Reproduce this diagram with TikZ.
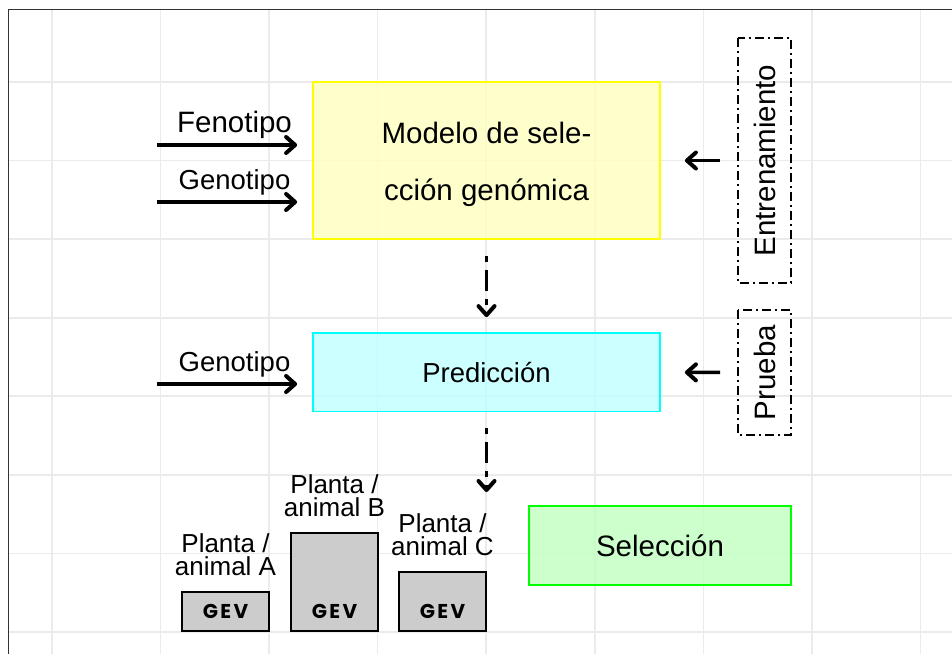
\documentclass[tikz,border=0pt]{standalone}
\usepackage{fontspec}
\setmainfont{Liberation Sans}
\newfontfamily\gevfont{Poppins}[LetterSpace=12]
\usepackage{tikz}
\usetikzlibrary{arrows.meta,positioning}
\definecolor{gridc}{HTML}{EBEBEB}
\definecolor{frame}{HTML}{333333}
\definecolor{modeldraw}{HTML}{FFFF00}
\definecolor{modelfill}{HTML}{FFFFBF}
\definecolor{preddraw}{HTML}{00FFFF}
\definecolor{predfill}{HTML}{BFFFFF}
\definecolor{seldraw}{HTML}{00FF00}
\definecolor{selfill}{HTML}{BFFFBF}
\definecolor{indfill}{HTML}{CCCCCC}
\tikzset{
  gline/.style={draw=gridc, line width=1.6pt},
  border/.style={draw=frame, line width=1.2pt},
  box/.style={draw, line width=1.8pt, inner sep=0pt, fill opacity=0.8, text opacity=1},
  modelbox/.style={box, draw=modeldraw, fill=modelfill, minimum width=347pt, minimum height=157pt},
  predbox/.style={box, draw=preddraw, fill=predfill, minimum width=347pt, minimum height=78.5pt},
  selbox/.style={box, draw=seldraw, fill=selfill, minimum width=262pt, minimum height=79pt},
  dashbox/.style={draw=black, line width=2pt, dash pattern=on 9pt off 4pt on 2pt off 4pt,
    rotate=90, inner sep=0pt, minimum height=53pt},
  indbox/.style={draw=black, fill=indfill, line width=2pt, inner sep=0pt, minimum width=87pt},
  feed/.style={-{Straight Barb[length=9pt,width=16pt,line width=4pt,round]}, line width=3.5pt},
  flow/.style={feed, dash pattern=on 6pt off 8pt on 21pt off 8pt},
  big/.style={font=\fontsize{29.5}{57}\selectfont},
  mid/.style={font=\fontsize{27.5}{33}\selectfont},
  plab/.style={font=\fontsize{26}{23.5}\selectfont, align=center, inner sep=0pt},
  gev/.style={font=\gevfont\bfseries\fontsize{20}{20}\selectfont, inner sep=0pt},
}
\begin{document}
\begin{tikzpicture}[x=1pt,y=-1pt]
  \useasboundingbox (0,0) rectangle (952,654);
  \foreach \i in {0,...,8}
    \draw[gline] ({52+108.56*\i},9.5) -- ({52+108.56*\i},654);
  \foreach \j in {0,...,7}
    \draw[gline] (8.5,{82+78.57*\j}) -- (952,{82+78.57*\j});
  \draw[border] (8.5,654) -- (8.5,9.5) -- (952,9.5);

  \node[modelbox] (modelo) at (486.5,160.5) {};
  \node[big, align=center, yshift=-3.5pt] (tModelo) at (modelo.center) {Modelo de sele-\\cción genómica};
  \node[predbox, mid] (predic) at (486.5,372.25) {Predicción};
  \node[selbox, big] (selec) at (660,545.5) {Selección};
  \node[dashbox, big, minimum width=245pt] (entren) at (764.5,160.5) {Entrenamiento};
  \node[dashbox, big, minimum width=125pt] (prueba) at (764.5,372.5) {Prueba};

  \coordinate (inFeno) at (157,145);
  \coordinate (inGeno) at (157,202);
  \coordinate (inPred) at (157,384);
  \draw[feed, shorten >=15pt] (inFeno) -- (inFeno -| modelo.west);
  \draw[feed, shorten >=15pt] (inGeno) -- (inGeno -| modelo.west);
  \draw[feed, shorten >=15pt] (inPred) -- (inPred -| predic.west);
  \node[big, anchor=base] (tFeno) at (234.5,132) {Fenotipo};
  \node[mid, anchor=base] (tGeno) at (234.5,189) {Genotipo};
  \node[mid, anchor=base] (tGenoP) at (234.5,371) {Genotipo};

  \draw[feed, shorten <=17pt, shorten >=24pt] (entren.north) -- (modelo.east);
  \draw[feed, shorten <=17pt, shorten >=24pt] (prueba.north) -- (predic.east);

  \coordinate (cand) at (486.5,492);
  \draw[flow, shorten <=16pt, shorten >=15pt] (modelo.south) -- (predic.north);
  \draw[flow, shorten <=16pt] (predic.south) -- (cand);

  \foreach \n/\cx/\h in {A/225.5/39, B/334.5/98, C/442.5/59}{
    \node[indbox, minimum height=\h pt, anchor=south] (box\n) at (\cx,632) {};
    \node[gev] (gev\n) at ([yshift=21pt]box\n.south) {GEV};
    \node[plab, above=15pt of box\n] (lab\n) {Planta /\\animal \n};
  }
\end{tikzpicture}
\end{document}
